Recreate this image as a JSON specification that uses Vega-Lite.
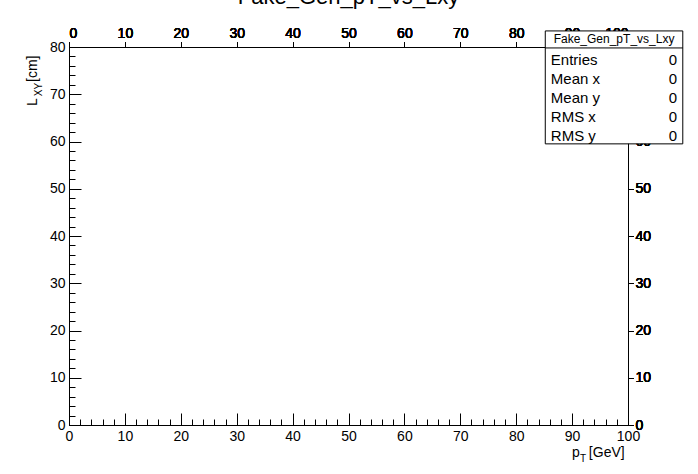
{
  "$schema": "https://vega.github.io/schema/vega-lite/v6.json",
  "width": 559,
  "height": 378,
  "autosize": {"type": "none"},
  "padding": {"left": 69, "top": 47, "right": 70, "bottom": 49},
  "background": "white",
  "config": {
    "font": "Liberation Sans",
    "view": {"stroke": "black", "strokeWidth": 1},
    "axis": {"grid": false, "domainColor": "black", "tickColor": "black", "labelColor": "black", "labelFont": "Liberation Sans", "labelFontSize": 14, "title": null}
  },
  "title": {"text": "Fake_Gen_pT_vs_Lxy", "fontSize": 22, "font": "Liberation Sans", "fontWeight": "normal", "offset": 17, "anchor": "middle"},
  "datasets": {
    "box": [{"x1": 85.2, "x2": 109.8, "y1": 59.5, "y2": 83.4, "yl": 79.8}],
    "stats": [
      {"label": "Entries", "value": "0", "y": 77.2},
      {"label": "Mean x", "value": "0", "y": 73.2},
      {"label": "Mean y", "value": "0", "y": 69.2},
      {"label": "RMS x", "value": "0", "y": 65.2},
      {"label": "RMS y", "value": "0", "y": 61.2}
    ],
    "titles": [
      {"t": "p", "x": 90.0, "y": -5.9, "s": 14, "a": 0},
      {"t": "T", "x": 91.4, "y": -7.3, "s": 10, "a": 0},
      {"t": "[GeV]", "x": 93.0, "y": -5.9, "s": 14, "a": 0},
      {"t": "L", "x": -6.4, "y": 67.5, "s": 14, "a": 270},
      {"t": "XY", "x": -5.3, "y": 69.6, "s": 10, "a": 270},
      {"t": "[cm]", "x": -6.4, "y": 72.6, "s": 14, "a": 270}
    ]
  },
  "layer": [
    {
      "data": {"values": [{"x": 0, "y": 0}]},
      "mark": {"type": "point", "opacity": 0},
      "encoding": {
        "x": {"field": "x", "type": "quantitative", "scale": {"domain": [0, 100], "nice": false, "zero": false},
          "axis": {"orient": "bottom", "values": [0,10,20,30,40,50,60,70,80,90,100], "tickSize": -12, "labelPadding": 16, "labelFlush": false}},
        "y": {"field": "y", "type": "quantitative", "scale": {"domain": [0, 80], "nice": false, "zero": false},
          "axis": {"orient": "left", "values": [0,10,20,30,40,50,60,70,80], "tickSize": -12, "labelPadding": 16, "labelFlush": false}}
      }
    },
    {
      "data": {"values": [{"x": 0, "y": 0}]},
      "mark": {"type": "point", "opacity": 0},
      "encoding": {
        "x": {"field": "x", "type": "quantitative",
          "axis": {"orient": "bottom", "values": [2,4,6,8,12,14,16,18,22,24,26,28,32,34,36,38,42,44,46,48,52,54,56,58,62,64,66,68,72,74,76,78,82,84,86,88,92,94,96,98], "tickSize": -6, "labels": false, "domain": false}},
        "y": {"field": "y", "type": "quantitative",
          "axis": {"orient": "left", "values": [2,4,6,8,12,14,16,18,22,24,26,28,32,34,36,38,42,44,46,48,52,54,56,58,62,64,66,68,72,74,76,78], "tickSize": -6, "labels": false, "domain": false}}
      }
    },
    {
      "data": {"name": "box"},
      "mark": {"type": "rect", "fill": "white", "stroke": "black", "strokeWidth": 1, "clip": false},
      "encoding": {
        "x": {"field": "x1", "type": "quantitative"}, "x2": {"field": "x2"},
        "y": {"field": "y1", "type": "quantitative"}, "y2": {"field": "y2"}
      }
    },
    {
      "data": {"name": "box"},
      "mark": {"type": "rule", "color": "black", "clip": false},
      "encoding": {
        "x": {"field": "x1", "type": "quantitative"}, "x2": {"field": "x2"},
        "y": {"field": "yl", "type": "quantitative"}
      }
    },
    {
      "data": {"values": [{"t": "Fake_Gen_pT_vs_Lxy", "x": 97.5, "y": 81.6}]},
      "mark": {"type": "text", "fontSize": 12, "align": "center", "baseline": "middle", "clip": false},
      "encoding": {"x": {"field": "x", "type": "quantitative"}, "y": {"field": "y", "type": "quantitative"}, "text": {"field": "t"}}
    },
    {
      "data": {"name": "stats"},
      "mark": {"type": "text", "fontSize": 15, "align": "left", "baseline": "middle", "clip": false},
      "encoding": {"x": {"datum": 86.2, "type": "quantitative"}, "y": {"field": "y", "type": "quantitative"}, "text": {"field": "label"}}
    },
    {
      "data": {"name": "stats"},
      "mark": {"type": "text", "fontSize": 15, "align": "right", "baseline": "middle", "clip": false},
      "encoding": {"x": {"datum": 108.8, "type": "quantitative"}, "y": {"field": "y", "type": "quantitative"}, "text": {"field": "value"}}
    },
    {
      "data": {"name": "titles"},
      "mark": {"type": "text", "align": "left", "baseline": "middle", "clip": false},
      "encoding": {"x": {"field": "x", "type": "quantitative"}, "y": {"field": "y", "type": "quantitative"}, "text": {"field": "t"},
        "size": {"field": "s", "type": "quantitative", "scale": null}, "angle": {"field": "a", "type": "quantitative", "scale": null}}
    }
  ],
  "resolve": {"axis": {"x": "independent", "y": "independent"}}
}
